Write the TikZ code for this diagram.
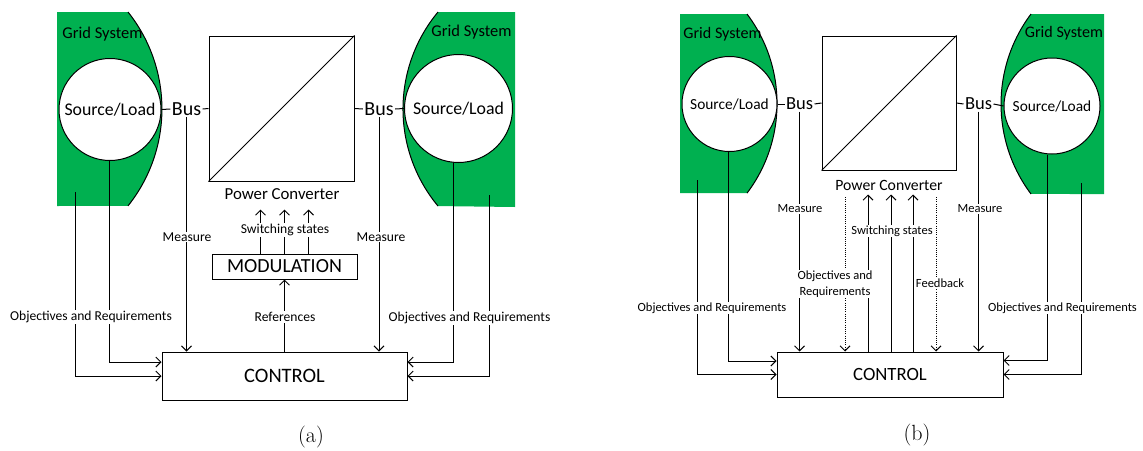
\documentclass[tikz,border=0pt]{standalone}
\usepackage{fontspec}
\newfontfamily\carlito{Carlito}
\usetikzlibrary{arrows.meta}

\definecolor{gridgreen}{RGB}{0,176,80}

\begin{document}
\begin{tikzpicture}[x=1pt, y=-1pt, line width=1pt,
    >={Straight Barb[length=5pt, width=10pt]},
    txt/.style={font=\carlito\fontsize{#1}{#1}\selectfont, inner sep=1pt},
    lbl/.style={txt=#1, fill=white},
    src/.style={circle, draw, fill=white, minimum size=#1pt, inner sep=0pt},
    box/.style={draw, inner sep=0pt},
    fbline/.style={dash pattern=on 1pt off 1.2pt}]
  \useasboundingbox (0,0) rectangle (1143,450);

  % ---------------- panel (a) ----------------
  % grid areas
  \fill[gridgreen] (57,12) -- (128,12) arc[start angle=-38.6, end angle=38.6, radius=155.4] -- (57,206) -- cycle;
  \draw (128,12) arc[start angle=-38.6, end angle=38.6, radius=155.4];
  \fill[gridgreen] (515,12) -- (438,12) arc[start angle=219.7, end angle=140.3, radius=151.9] -- (515,207) -- cycle;
  \draw (438,12) arc[start angle=219.7, end angle=140.3, radius=151.9];

  \node[txt=16.5] (gsLa) at (102.5,34) {Grid System};
  \node[txt=16.5] (gsRa) at (471.5,32) {Grid System};
  \node[src=102, txt=17.8] (srcLa) at (110,109.5) {Source/Load};
  \node[src=108, txt=17.8] (srcRa) at (458.5,108.5) {Source/Load};
  \node[txt=20] (busLa) at (186.5,109) {Bus};
  \node[txt=20] (busRa) at (379,109) {Bus};
  \node[box, minimum width=145pt, minimum height=145pt] (conva) at (281.5,108.5) {};
  \node[txt=16.8] (pca) at (282,194) {Power Converter};
  \node[box, txt=20, minimum width=145pt, minimum height=25pt] (moda) at (284.5,266.5) {MODULATION};
  \node[box, txt=20.5, minimum width=245pt, minimum height=48pt] (ctrla) at (284.5,376) {CONTROL};

  \draw (conva.south west) -- (conva.north east);
  \draw (srcLa.east) -- (busLa.west);
  \draw (busLa.east) -- (conva.west);
  \draw (conva.east) -- (busRa.west);
  \draw (busRa.east) -- (srcRa.west);

  % measure
  \draw[->] (busLa.south) -- (busLa.south |- ctrla.north);
  \draw[->] (busRa.south) -- (busRa.south |- ctrla.north);

  % switching states and references
  \foreach \dx in {-24,0,24}
    \draw[->] ([xshift=\dx pt]moda.north) -- ++(0,-44);
  \draw[->] (ctrla.north) -- (moda.south);

  % objectives
  \coordinate (gLa) at (75,192);
  \coordinate (gRa) at (489,195);
  \draw[->] ([xshift=-1pt]srcLa.south) |- ([yshift=14pt]ctrla.west);
  \draw[->] (gLa) |- (ctrla.west);
  \draw[->] ([xshift=-5pt]srcRa.south) |- ([yshift=14pt]ctrla.east);
  \draw[->] (gRa) |- (ctrla.east);

  \node[lbl=13.6] (msLa) at (187,237) {Measure};
  \node[lbl=13.6] (msRa) at (381,237) {Measure};
  \node[lbl=13.6] (swa) at (285,230) {Switching states};
  \node[lbl=13.6] (refa) at (285,317) {References};
  \node[lbl=13.6] (objLa) at (91,317) {Objectives and Requirements};
  \node[lbl=13.6] (objRa) at (469.5,318) {Objectives and Requirements};
  \node[font=\fontsize{22}{24}\selectfont] (capa) at (311,437) {(a)};

  % ---------------- panel (b) ----------------
  \fill[gridgreen] (680,14) -- (747,14) arc[start angle=-37.1, end angle=37.1, radius=148.5] -- (680,193) -- cycle;
  \draw (747,14) arc[start angle=-37.1, end angle=37.1, radius=148.5];
  \fill[gridgreen] (1104,14) -- (1031,14) arc[start angle=216.87, end angle=143.13, radius=150] -- (1104,194) -- cycle;
  \draw (1031,14) arc[start angle=216.87, end angle=143.13, radius=150];

  \node[txt=16.1] (gsLb) at (722.5,34) {Grid System};
  \node[txt=16.1] (gsRb) at (1064,33) {Grid System};
  \node[src=95, txt=15.4] (srcLb) at (729.5,104) {Source/Load};
  \node[src=96, txt=15.4] (srcRb) at (1052,106) {Source/Load};
  \node[txt=18.5] (busLb) at (799.5,104) {Bus};
  \node[txt=18.5] (busRb) at (978.5,104) {Bus};
  \node[box, minimum size=134pt] (convb) at (889,103) {};
  \node[txt=15.7] (pcb) at (889,185) {Power Converter};
  \node[box, txt=18.7, minimum width=226pt, minimum height=45pt] (ctrlb) at (890,374.5) {CONTROL};

  \draw (convb.south west) -- (convb.north east);
  \draw (srcLb.east) -- (busLb.west);
  \draw (busLb.east) -- (convb.west);
  \draw (convb.east) -- (busRb.west);
  \draw (busRb.east) -- (srcRb.west);

  % measure
  \draw[->] (busLb.south) -- (busLb.south |- ctrlb.north);
  \draw[->] (busRb.south) -- (busRb.south |- ctrlb.north);

  % objectives / feedback (dotted) and switching states
  \coordinate (fbL) at (845,197);
  \coordinate (fbR) at (936,197);
  \draw[->, fbline] (fbL) -- (fbL |- ctrlb.north);
  \draw[->, fbline] (fbR) -- (fbR |- ctrlb.north);
  \foreach \dx in {-22,1,23}
    \draw[->] ([xshift=\dx pt]ctrlb.north) -- ++(0,-157);

  % objectives
  \coordinate (gLb) at (697,180);
  \coordinate (gRb) at (1081,183);
  \draw[->] ([xshift=-1.5pt]srcLb.south) |- ([yshift=13.5pt]ctrlb.west);
  \draw[->] (gLb) |- (ctrlb.west);
  \draw[->] ([xshift=-5pt]srcRb.south) |- ([yshift=14pt]ctrlb.east);
  \draw[->] (gRb) |- (ctrlb.east);

  \node[lbl=12.5] (msLb) at (800,209) {Measure};
  \node[lbl=12.5] (msRb) at (980,209) {Measure};
  \node[lbl=12.5] (swb) at (892,231) {Switching states};
  \node[lbl=12.5, align=center] (objCb) at (835,284) {Objectives and\\[3pt]Requirements};
  \node[lbl=12.5] (fbb) at (940,283) {Feedback};
  \node[lbl=12.5] (objLb) at (712,308) {Objectives and Requirements};
  \node[lbl=12.5] (objRb) at (1062.5,308) {Objectives and Requirements};
  \node[font=\fontsize{22}{24}\selectfont] (capb) at (917,435) {(b)};
\end{tikzpicture}
\end{document}
